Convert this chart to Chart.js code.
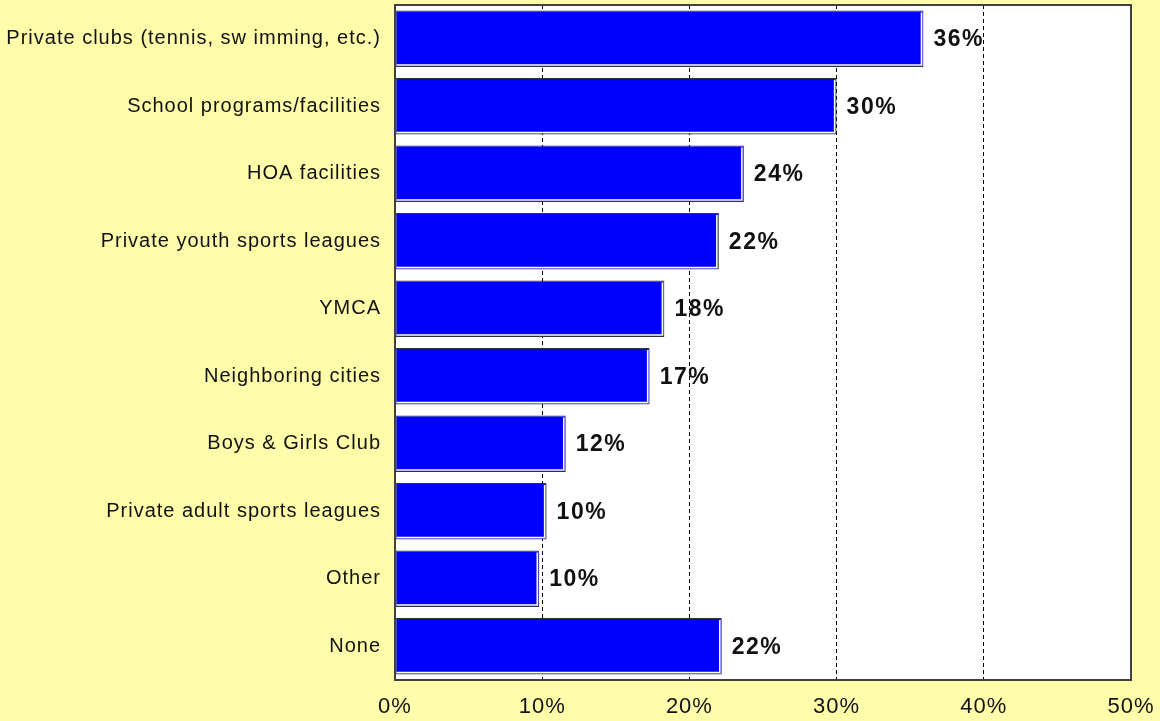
<!DOCTYPE html>
<html>
<head>
<meta charset="utf-8">
<script src="https://cdn.jsdelivr.net/npm/chart.js@4/dist/chart.umd.min.js"></script>
<style>
  html, body { margin: 0; padding: 0; background: #FFFCAA; }
  #wrap { width: 1160px; height: 721px; }
</style>
</head>
<body>
<div id="wrap"><canvas id="chart-use"></canvas></div>
<script>
// facilities used, share of respondents
var categories = [
    'Private clubs (tennis, sw imming, etc.)',
    'School programs/facilities',
    'HOA facilities',
    'Private youth sports leagues',
    'YMCA',
    'Neighboring cities',
    'Boys & Girls Club',
    'Private adult sports leagues',
    'Other',
    'None'
];
var percents = [35.9, 30.0, 23.7, 22.0, 18.3, 17.3, 11.6, 10.3, 9.8, 22.2];
var tickValues = [0, 10, 20, 30, 40, 50];

function noAutoPad(axis) {
    axis.paddingTop = 0;
    axis.paddingBottom = 0;
    axis.paddingLeft = 0;
    axis.paddingRight = 0;
}

// white plot area + frame, letter spacing for the Arial-ish look
var plotFrame = {
    id: 'plotFrame',
    beforeDraw: function (chart) {
        var c = chart.ctx, a = chart.chartArea;
        c.save();
        c.fillStyle = '#ffffff';
        c.fillRect(a.left, a.top, a.right - a.left, a.bottom - a.top);
        c.restore();
        c.letterSpacing = '1px';
    },
    afterDraw: function (chart) {
        var c = chart.ctx, a = chart.chartArea;
        c.save();
        c.strokeStyle = '#404040';
        c.lineWidth = 2;
        c.strokeRect(a.left, a.top, a.right - a.left, a.bottom - a.top);
        c.restore();
    }
};

// bevel line + value labels at the end of each bar
var barLabels = {
    id: 'barLabels',
    afterDatasetsDraw: function (chart) {
        var c = chart.ctx;
        var meta = chart.getDatasetMeta(0);
        c.save();
        meta.data.forEach(function (bar, i) {
            var top = bar.y - bar.height / 2, bottom = bar.y + bar.height / 2;
            c.strokeStyle = '#ffffff';
            c.lineWidth = 1.5;
            c.beginPath();
            c.moveTo(bar.base + 1, bottom - 2);
            c.lineTo(bar.x - 2, bottom - 2);
            c.lineTo(bar.x - 2, top + 2);
            c.stroke();

            c.fillStyle = '#111';
            c.font = 'bold 23px "Liberation Sans", Arial, sans-serif';
            c.letterSpacing = '1.5px';
            c.textAlign = 'left';
            c.textBaseline = 'middle';
            c.fillText(Math.round(percents[i]) + '%', bar.x + 10, bar.y + 1);
        });
        c.restore();
    }
};

var ctx = document.getElementById('chart-use').getContext('2d');
var chart = new Chart(ctx, {
    type: 'bar',
    data: {
        labels: categories,
        datasets: [{
            data: percents,
            backgroundColor: '#0000FF',
            borderColor: '#333',
            borderWidth: 1,
            borderSkipped: false,
            categoryPercentage: 1.0,
            barPercentage: 0.84
        }]
    },
    options: {
        indexAxis: 'y',
        responsive: true,
        maintainAspectRatio: false,
        animation: false,
        layout: { padding: { top: 5, right: 29, left: 0, bottom: 0 } },
        plugins: {
            legend: { display: false },
            tooltip: { enabled: false }
        },
        scales: {
            x: {
                min: 0,
                max: 50,
                afterBuildTicks: function (axis) {
                    axis.ticks = tickValues.map(function (v) { return { value: v }; });
                },
                afterFit: function (axis) { axis.height = 41; noAutoPad(axis); },
                ticks: {
                    callback: function (v) { return v + '%'; },
                    color: '#111',
                    padding: 14,
                    maxRotation: 0,
                    font: { family: '"Liberation Sans", Arial, sans-serif', size: 22 }
                },
                grid: {
                    color: '#000',
                    lineWidth: 1,
                    drawTicks: false
                },
                border: { display: false, dash: [4, 3] }
            },
            y: {
                afterFit: function (axis) { axis.width = 395; noAutoPad(axis); },
                ticks: {
                    color: '#111',
                    padding: 14,
                    font: { family: '"Liberation Sans", Arial, sans-serif', size: 20 }
                },
                grid: { display: false, drawTicks: false },
                border: { display: false }
            }
        }
    },
    plugins: [plotFrame, barLabels]
});
</script>
</body>
</html>
